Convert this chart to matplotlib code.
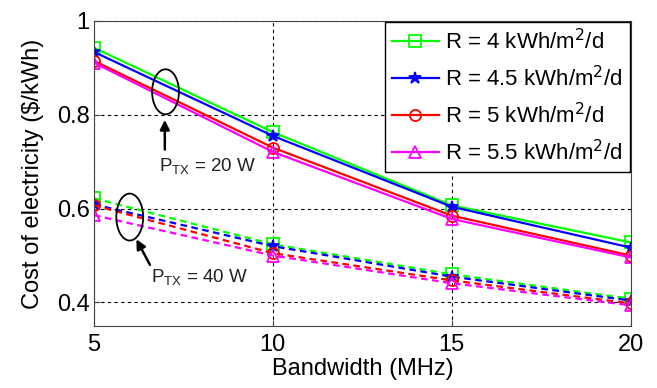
import matplotlib
matplotlib.use("Agg")
import matplotlib.pyplot as plt
from matplotlib.patches import Ellipse

plt.rcParams['font.family'] = ['Liberation Sans', 'DejaVu Sans']

bandwidth = [5, 10, 15, 20]
labels = ['R = 4 kWh/m$^2$/d', 'R = 4.5 kWh/m$^2$/d', 'R = 5 kWh/m$^2$/d', 'R = 5.5 kWh/m$^2$/d']
colors = ['#00ff00', '#0000ff', '#ff0000', '#ff00ff']
markers = ['s', '*', 'o', '^']

cost_20w = [
    [0.943, 0.763, 0.607, 0.528],
    [0.934, 0.755, 0.604, 0.517],
    [0.915, 0.730, 0.585, 0.500],
    [0.911, 0.721, 0.578, 0.496],
]
cost_40w = [
    [0.622, 0.524, 0.460, 0.408],
    [0.609, 0.520, 0.455, 0.404],
    [0.607, 0.505, 0.447, 0.398],
    [0.586, 0.500, 0.441, 0.394],
]

fig = plt.figure(figsize=(6.57, 3.88), dpi=100)
ax = fig.add_axes([0.143, 0.160, 0.817, 0.786])

def mstyle(m, c):
    if m == '*':
        return dict(ms=9, mfc=c)
    return dict(ms=8, mfc='none')

for i in range(4):
    ax.plot(bandwidth, cost_20w[i], color=colors[i], marker=markers[i], lw=1.6,
            mew=1.3, label=labels[i], **mstyle(markers[i], colors[i]))
for i in range(4):
    ax.plot(bandwidth, cost_40w[i], color=colors[i], marker=markers[i], lw=1.6, ls='--',
            dashes=(3, 2), mew=1.3, **mstyle(markers[i], colors[i]))

ax.set_xlim(5, 20)
ax.set_ylim(0.35, 1.0)
ax.set_xticks([5, 10, 15, 20])
ax.set_yticks([0.4, 0.6, 0.8, 1.0])
ax.set_yticklabels(['0.4', '0.6', '0.8', '1'])
ax.grid(True, color='black', ls=(0, (3, 3)), lw=0.8)
ax.tick_params(labelsize=17, direction='in', length=4, color='#444444', pad=3)
ax.tick_params(axis='x', pad=6)
for s in ax.spines.values():
    s.set_color('#444444')
ax.set_xlabel('Bandwidth (MHz)', fontsize=17, labelpad=1)
ax.set_ylabel('Cost of electricity ($/kWh)', fontsize=17, labelpad=9)

ax.add_patch(Ellipse((7.0, 0.849), 0.75, 0.096, fill=False, ec='black', lw=1.3, zorder=5))
ax.add_patch(Ellipse((6.0, 0.582), 0.75, 0.10, fill=False, ec='black', lw=1.3, zorder=5))
ax.annotate('', xy=(6.98, 0.795), xytext=(6.98, 0.72),
            arrowprops=dict(arrowstyle='-|>', color='black', lw=1.8, mutation_scale=14))
ax.annotate('', xy=(6.15, 0.54), xytext=(6.6, 0.475),
            arrowprops=dict(arrowstyle='-|>', color='black', lw=1.8, mutation_scale=14))
ax.text(6.82, 0.69, r'P$_{\mathregular{TX}}$ = 20 W', fontsize=13.5, va='center', color='#222222')
ax.text(6.6, 0.452, r'P$_{\mathregular{TX}}$ = 40 W', fontsize=13.5, va='center', color='#222222')

leg = ax.legend(loc='upper right', fontsize=16, frameon=True, fancybox=False,
                edgecolor='black', framealpha=1, borderaxespad=0.05,
                handlelength=2.1, handletextpad=0.3, labelspacing=0.53, borderpad=0.3)
leg.get_frame().set_linewidth(1.0)

fig.savefig('out.png', dpi=100)
